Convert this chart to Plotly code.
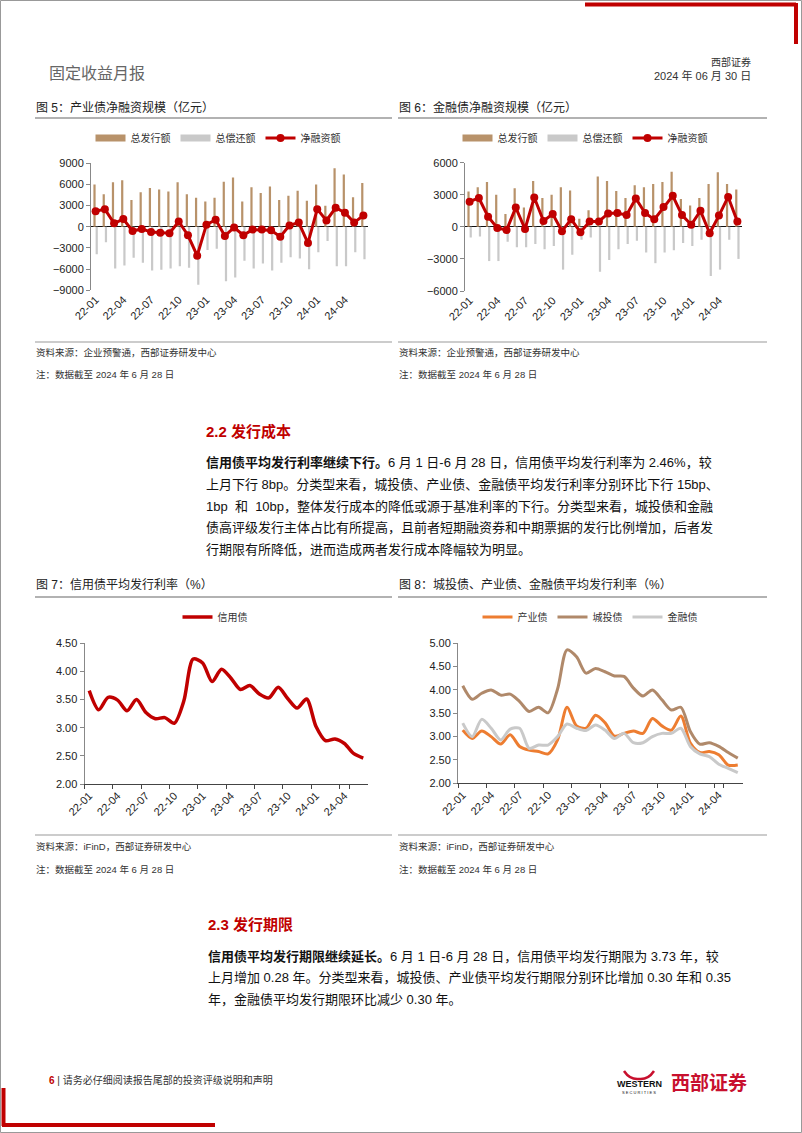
import plotly.graph_objects as go

W, H = 802, 1133
def px(x): return x / W
def py(y): return 1 - y / H

months = ["22-01","22-02","22-03","22-04","22-05","22-06","22-07","22-08","22-09","22-10","22-11","22-12",
          "23-01","23-02","23-03","23-04","23-05","23-06","23-07","23-08","23-09","23-10","23-11","23-12",
          "24-01","24-02","24-03","24-04","24-05","24-06"]
tick_months = ["22-01","22-04","22-07","22-10","23-01","23-04","23-07","23-10","24-01","24-04"]

# Fig 5: industrial bonds (亿元)
cy_issue = [6000,4600,6300,6600,3800,4900,5500,5300,5000,6300,4600,4100,3600,4100,6400,7000,3600,5600,4800,5700,3800,4400,5100,3700,6000,3000,8300,7400,4200,6200]
cy_repay = [-3900,-2200,-5900,-5500,-4400,-5100,-6200,-6100,-5900,-5600,-5800,-8200,-3300,-3100,-7700,-7200,-4800,-5900,-5200,-6200,-5100,-4300,-4500,-6000,-3600,-2000,-5600,-5600,-3600,-4600]
cy_net = [2200,2500,500,1100,-600,-300,-750,-850,-900,750,-1200,-4100,300,1000,-1300,-100,-1200,-400,-400,-500,-1400,200,600,-2300,2500,900,2700,2000,600,1600]

# Fig 6: financial bonds (亿元)
jr_issue = [3300,3700,4200,3000,1200,3600,1800,4300,2700,3000,3700,3400,750,1550,4700,4300,3350,2700,3900,3700,4000,4200,5150,2600,2000,2700,4000,5100,4000,3500]
jr_repay = [-1000,-900,-3200,-3200,-1400,-1900,-1900,-1600,-2100,-1800,-4000,-2600,-1200,-1000,-4200,-3100,-2100,-1600,-1300,-2400,-3400,-2400,-2200,-1500,-1800,-1200,-4600,-4000,-1200,-3000]
jr_net = [2350,2700,950,-100,-300,1800,-200,2750,550,1200,-400,700,-500,500,500,1250,1300,1100,2650,1300,700,1850,2900,1100,200,1500,-600,1050,2800,500]

# Fig 7: credit bond avg issuance rate (%)
xyz_rate = [3.66,3.32,3.54,3.49,3.30,3.50,3.27,3.16,3.18,3.08,3.47,4.22,4.15,3.82,4.04,3.88,3.68,3.75,3.60,3.53,3.72,3.52,3.35,3.51,3.02,2.77,2.80,2.72,2.54,2.46]

# Fig 8: by type (%)
cy_rate = [3.14,2.96,3.12,3.00,2.84,3.04,2.79,2.71,2.68,2.63,2.93,3.63,3.23,3.18,3.46,3.30,3.01,3.07,3.12,3.07,3.39,3.23,3.14,3.44,2.86,2.66,2.68,2.61,2.39,2.39]
ct_rate = [4.09,3.80,3.93,4.00,3.89,3.91,3.75,3.54,3.63,3.51,4.02,4.86,4.71,4.36,4.46,4.39,4.30,4.29,4.04,3.87,4.00,3.79,3.57,3.63,3.11,2.84,2.87,2.79,2.66,2.54]
jr_rate = [3.29,3.00,3.37,3.18,2.93,3.16,3.18,2.75,2.82,2.82,3.00,3.27,3.18,3.13,3.25,3.14,2.96,3.07,2.87,2.87,3.00,3.07,3.07,3.18,2.79,2.63,2.57,2.41,2.32,2.23]

RED = "#C00000"
TAN = "#B8926A"
GRAY = "#C9C9C9"
ORANGE = "#ED7D31"
BROWN = "#B0896A"
CJK = "Liberation Sans, Noto Sans CJK SC, sans-serif"

fig = go.Figure()

def bar_panel(issue, repay, net, xa, ya, lg):
    fig.add_trace(go.Bar(x=months, y=issue, name="总发行额", marker_color=TAN, xaxis=xa, yaxis=ya,
                         showlegend=False))
    fig.add_trace(go.Bar(x=months, y=repay, name="总偿还额", marker_color=GRAY, xaxis=xa, yaxis=ya,
                         showlegend=False))
    # legend swatches (wide rectangles like the original)
    fig.add_trace(go.Scatter(x=[None], y=[None], mode="lines", name="总发行额",
                             line=dict(color=TAN, width=7), xaxis=xa, yaxis=ya, legend=lg))
    fig.add_trace(go.Scatter(x=[None], y=[None], mode="lines", name="总偿还额",
                             line=dict(color=GRAY, width=7), xaxis=xa, yaxis=ya, legend=lg))
    fig.add_trace(go.Scatter(x=months, y=net, name="净融资额", mode="lines+markers",
                             line=dict(color=RED, width=3), marker=dict(size=8, color=RED),
                             xaxis=xa, yaxis=ya, legend=lg))

bar_panel(cy_issue, cy_repay, cy_net, "x", "y", "legend")
bar_panel(jr_issue, jr_repay, jr_net, "x2", "y2", "legend2")

# Fig 7
fig.add_trace(go.Scatter(x=months, y=xyz_rate, name="信用债", mode="lines",
                         line=dict(color=RED, width=3.5, shape="spline", smoothing=0.8),
                         xaxis="x3", yaxis="y3", legend="legend3"))
# Fig 8
fig.add_trace(go.Scatter(x=months, y=cy_rate, name="产业债", mode="lines",
                         line=dict(color=ORANGE, width=3, shape="spline", smoothing=0.8),
                         xaxis="x4", yaxis="y4", legend="legend4"))
fig.add_trace(go.Scatter(x=months, y=ct_rate, name="城投债", mode="lines",
                         line=dict(color=BROWN, width=3, shape="spline", smoothing=0.8),
                         xaxis="x4", yaxis="y4", legend="legend4"))
fig.add_trace(go.Scatter(x=months, y=jr_rate, name="金融债", mode="lines",
                         line=dict(color=GRAY, width=3, shape="spline", smoothing=0.8),
                         xaxis="x4", yaxis="y4", legend="legend4"))

tickfont = dict(family="Liberation Sans, Arial, sans-serif", size=11, color="#222")

def xax(domain, anchor, showline):
    d = dict(domain=domain, anchor=anchor, type="category", categoryorder="array", categoryarray=months,
             range=[-0.5, 29.5], tickmode="array", tickvals=tick_months, ticktext=tick_months,
             tickangle=-45, tickfont=tickfont, showgrid=False, zeroline=False, automargin=False,
             showline=showline, linecolor="#444", linewidth=1,
             ticks="outside" if showline else "", ticklen=4, tickcolor="#444", fixedrange=True)
    if showline:
        d["tickson"] = "boundaries"
    return d

def yax(domain, anchor, rng, dtick, fmt, zeroline):
    return dict(domain=domain, anchor=anchor, range=rng, dtick=dtick, tick0=rng[0], tickformat=fmt,
                tickfont=tickfont, showgrid=False, zeroline=zeroline, zerolinecolor="#111", zerolinewidth=1.2,
                showline=True, linecolor="#888", linewidth=1, ticks="outside", ticklen=4, tickcolor="#888",
                automargin=False, fixedrange=True)

legend_font = dict(family=CJK, size=10, color="#333")
def leg(x, y):
    return dict(x=x, y=y, xanchor="center", yanchor="middle", orientation="h",
                font=legend_font, bgcolor="rgba(0,0,0,0)", itemwidth=30, tracegroupgap=0)

fig.update_layout(
    template="none",
    width=W, height=H, margin=dict(l=0, r=0, t=0, b=0, pad=0, autoexpand=False),
    paper_bgcolor="white", plot_bgcolor="white",
    barmode="group", bargap=0.52, bargroupgap=0,
    xaxis=xax([px(91), px(368)], "y", False),
    yaxis=yax([py(290.3), py(163.3)], "x", [-9000, 9000], 3000, "d", True),
    xaxis2=xax([px(465), px(742)], "y2", False),
    yaxis2=yax([py(291), py(162.7)], "x2", [-6000, 6000], 3000, "d", True),
    xaxis3=xax([px(84.5), px(368)], "y3", True),
    yaxis3=yax([py(784), py(643.3)], "x3", [2.0, 4.5], 0.5, ".2f", False),
    xaxis4=xax([px(458), px(742.5)], "y4", True),
    yaxis4=yax([py(783.3), py(643.3)], "x4", [2.0, 5.0], 0.5, ".2f", False),
    legend=leg(px(218), py(138)),
    legend2=leg(px(585), py(138)),
    legend3=leg(px(215), py(617)),
    legend4=leg(px(590), py(617)),
    showlegend=True,
)

annotations = []
def text(x, y, s, size=12, color="#222", anchor="left", family=CJK):
    annotations.append(dict(x=px(x), y=py(y), xref="paper", yref="paper", text=s, showarrow=False,
                            xanchor=anchor, yanchor="middle", borderpad=0,
                            font=dict(family=family, size=size, color=color)))

# header
text(48, 73, "固定收益月报", 16, "#666")
text(752, 62, "西部证券", 10, "#333", "right")
text(752, 76, "2024 年 06 月 30 日", 11, "#333", "right")

# figure titles
text(35, 108, "图 5：产业债净融资规模（亿元）", 12, "#222")
text(398, 108, "图 6：金融债净融资规模（亿元）", 12, "#222")
text(35, 584, "图 7：信用债平均发行利率（%）", 12, "#222")
text(398, 584, "图 8：城投债、产业债、金融债平均发行利率（%）", 12, "#222")

# sources
for x0 in (35, 398):
    text(x0, 353, "资料来源：企业预警通，西部证券研发中心", 9.5, "#333")
    text(x0, 375, "注：数据截至 2024 年 6 月 28 日", 9.5, "#333")
    text(x0, 846, "资料来源：iFinD，西部证券研发中心", 9.5, "#333")
    text(x0, 869, "注：数据截至 2024 年 6 月 28 日", 9.5, "#333")

# section 2.2
text(205, 431, "<b>2.2 发行成本</b>", 15, RED)
para1 = [
    "<b>信用债平均发行利率继续下行。</b>6 月 1 日-6 月 28 日，信用债平均发行利率为 2.46%，较",
    "上月下行 8bp。分类型来看，城投债、产业债、金融债平均发行利率分别环比下行 15bp、",
    "1bp  和  10bp，整体发行成本的降低或源于基准利率的下行。分类型来看，城投债和金融",
    "债高评级发行主体占比有所提高，且前者短期融资券和中期票据的发行比例增加，后者发",
    "行期限有所降低，进而造成两者发行成本降幅较为明显。",
]
for i, s in enumerate(para1):
    text(205, 463 + 21.5 * i, s, 13, "#111")

# section 2.3
text(207, 924, "<b>2.3 发行期限</b>", 15, RED)
para2 = [
    "<b>信用债平均发行期限继续延长。</b>6 月 1 日-6 月 28 日，信用债平均发行期限为 3.73 年，较",
    "上月增加 0.28 年。分类型来看，城投债、产业债平均发行期限分别环比增加 0.30 年和 0.35",
    "年，金融债平均发行期限环比减少 0.30 年。",
]
for i, s in enumerate(para2):
    text(207, 956 + 21.5 * i, s, 13, "#111")

# footer
text(48, 1080, "<span style='color:#C00000'><b>6</b></span> | 请务必仔细阅读报告尾部的投资评级说明和声明", 10, "#333")
text(639, 1084, "<b>WESTERN</b>", 9, "#111", "center", "Liberation Sans, Arial")
text(639, 1092, "S E C U R I T I E S", 4, "#111", "center", "Liberation Sans, Arial")
text(709, 1083, "<b>西部证券</b>", 19, "#C8102E", "center")

fig.update_layout(annotations=annotations)

shapes = []
def line(x0, y0, x1, y1, color="#999", width=1):
    shapes.append(dict(type="line", xref="paper", yref="paper", x0=px(x0), y0=py(y0), x1=px(x1), y1=py(y1),
                       line=dict(color=color, width=width)))

# page border
shapes.append(dict(type="rect", xref="paper", yref="paper", x0=px(0.5), y0=py(1132.5), x1=px(801.5), y1=py(0.5),
                   line=dict(color="#999", width=1)))
# red corner decorations
line(585, 4.5, 796, 4.5, RED, 4)
line(796, 3, 796, 44, RED, 4)
line(3.5, 1088, 3.5, 1126, RED, 4)
line(2, 1125, 215, 1125, RED, 4)

# title rules
line(35, 118, 392, 118, "#999", 1.5)
line(398, 118, 767, 118, "#999", 1.5)
line(35, 597, 392, 597, "#999", 1.5)
line(398, 597, 767, 597, "#999", 1.5)
# source rules
line(35, 342, 392, 342, "#999", 1)
line(398, 342, 767, 342, "#999", 1)
line(35, 835, 392, 835, "#999", 1)
line(398, 835, 767, 835, "#999", 1)

# logo horn
hp = f"M {px(624)} {py(1071)} Q {px(630)} {py(1080)} {px(639)} {py(1079)} Q {px(648)} {py(1080)} {px(654)} {py(1071)}"
shapes.append(dict(type="path", xref="paper", yref="paper", path=hp, line=dict(color="#C8102E", width=2.5)))

fig.update_layout(shapes=shapes)

fig.write_html("out.html")
